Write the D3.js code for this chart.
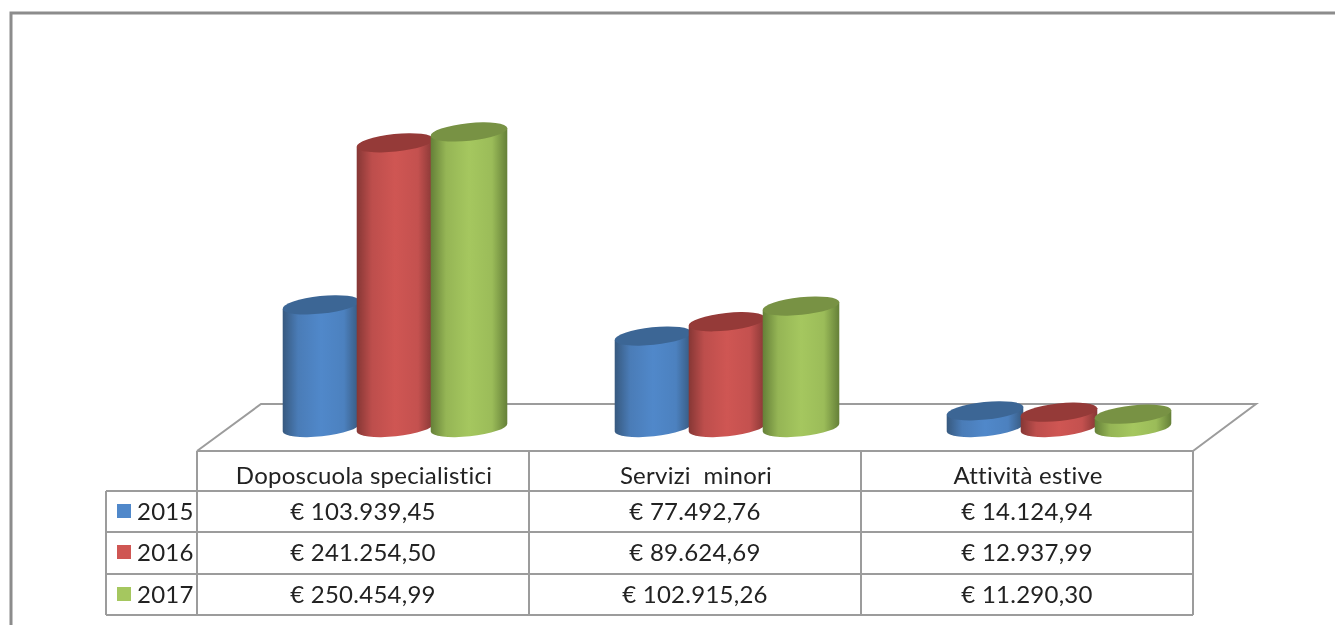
<!DOCTYPE html>
<html>
<head>
<meta charset="utf-8">
<script src="https://cdn.jsdelivr.net/npm/d3@7"></script>
<style>
  html, body { margin: 0; padding: 0; background: #fff; overflow: hidden; }
  svg { filter: blur(0.45px); }
  text { font-family: Lato, "Open Sans", sans-serif; fill: #222; white-space: pre; font-variant-ligatures: none; letter-spacing: 0.25px; }
</style>
</head>
<body>
<div id="chart"></div>
<script>
const categories = ["Doposcuola specialistici", "Servizi  minori", "Attività estive"];
const years = ["2015", "2016", "2017"];
const values2015 = [103939.45, 77492.76, 14124.94];
const values2016 = [241254.50, 89624.69, 12937.99];
const values2017 = [250454.99, 102915.26, 11290.30];
const seriesValues = [values2015, values2016, values2017];

const width = 1335;
const height = 625;
const lineColor = "#9c9c9c";

// side colours: edge, middle, top ellipse
const colors = [
  { edge: "#37597f", mid: "#5088ca", top: "#3c6695" },
  { edge: "#863735", mid: "#cf5653", top: "#953a38" },
  { edge: "#658038", mid: "#a5c75f", top: "#789244" }
];

const svg = d3.select("#chart")
  .append("svg")
  .attr("width", width)
  .attr("height", height);

// gradients
const defs = svg.append("defs");
colors.forEach((c, i) => {
  const g = defs.append("linearGradient").attr("id", "side" + i);
  [[0, c.edge], [0.2, d3.interpolateRgb(c.edge, c.mid)(0.75)], [0.5, c.mid], [0.8, d3.interpolateRgb(c.edge, c.mid)(0.85)], [1, c.edge]]
    .forEach(s => g.append("stop").attr("offset", s[0]).attr("stop-color", s[1]));
});

// outer frame
svg.append("path")
  .attr("d", `M11,${height}V13H${width}`)
  .attr("fill", "none")
  .attr("stroke", "#8c8c8c")
  .attr("stroke-width", 3);

const x = d3.scaleBand()
  .domain(categories)
  .range([197, 1193]);

// bars stand back on the floor, so they sit right of the band centre
const xYear = d3.scaleBand()
  .domain(years)
  .range([87, 309]);

const baseY = 427.5;

const y = d3.scaleLinear()
  .domain([0, 300000])
  .range([baseY, baseY - 354]);

// floor
svg.append("path")
  .attr("d", "M197,451L261,404H1256L1193,451")
  .attr("fill", "none")
  .attr("stroke", lineColor)
  .attr("stroke-width", 2);

// cylinders
const rx = 38.5, ry = 8.8, tilt = -6;
const dx = rx * Math.cos(tilt * Math.PI / 180);
const dy = rx * Math.sin(tilt * Math.PI / 180);

const bars = [];
years.forEach((yr, s) => {
  categories.forEach((cat, c) => {
    bars.push({ s, yr, cat, value: seriesValues[s][c] });
  });
});

const bar = svg.append("g")
  .selectAll("g")
  .data(bars)
  .join("g")
  .attr("transform", d => `translate(${x(d.cat) + xYear(d.yr) + xYear.bandwidth() / 2},0)`);

bar.append("path")
  .attr("fill", d => `url(#side${d.s})`)
  .attr("d", d => {
    const t = y(d.value);
    return `M${-dx},${t - dy}L${-dx},${baseY - dy}A${rx},${ry} ${tilt} 0 0 ${dx},${baseY + dy}L${dx},${t + dy}Z`;
  });

bar.append("ellipse")
  .attr("rx", rx)
  .attr("ry", ry)
  .attr("fill", d => colors[d.s].top)
  .attr("transform", d => `translate(0,${y(d.value)}) rotate(${tilt})`);

// data table
const rowY = [451, 491, 532, 574, 615];
const table = svg.append("g")
  .attr("fill", "none")
  .attr("stroke", lineColor)
  .attr("stroke-width", 2);

table.selectAll("line.h")
  .data(rowY)
  .join("line")
  .attr("x1", (d, i) => i === 0 ? 197 : 106)
  .attr("x2", 1193)
  .attr("y1", d => d)
  .attr("y2", d => d);

table.selectAll("line.v")
  .data([...categories.map(c => x(c)), 1193])
  .join("line")
  .attr("class", "v")
  .attr("x1", d => d)
  .attr("x2", d => d)
  .attr("y1", 451)
  .attr("y2", 615);

table.append("line")
  .attr("x1", 106).attr("x2", 106)
  .attr("y1", 491).attr("y2", 615);

const fontSize = 24;

svg.append("g")
  .selectAll("text")
  .data(categories)
  .join("text")
  .attr("x", d => x(d) + x.bandwidth() / 2 + 1)
  .attr("y", 484)
  .attr("text-anchor", "middle")
  .style("font-size", fontSize + "px")
  .text(d => d);

const euro = d3.formatLocale({
  decimal: ",",
  thousands: ".",
  grouping: [3],
  currency: ["€ ", ""]
}).format("$,.2f");

years.forEach((yr, s) => {
  const row = svg.append("g");
  const baseline = rowY[s + 1] + 29;

  row.append("rect")
    .attr("x", 117)
    .attr("y", rowY[s + 1] + 13)
    .attr("width", 14)
    .attr("height", 14)
    .attr("fill", colors[s].mid);

  row.append("text")
    .attr("x", 137)
    .attr("y", baseline)
    .style("font-size", fontSize + "px")
    .text(yr);

  row.selectAll("text.val")
    .data(categories)
    .join("text")
    .attr("class", "val")
    .attr("x", d => x(d) + x.bandwidth() / 2)
    .attr("y", baseline)
    .attr("text-anchor", "middle")
    .style("font-size", fontSize + "px")
    .text((d, c) => euro(seriesValues[s][c]));
});
</script>
</body>
</html>
